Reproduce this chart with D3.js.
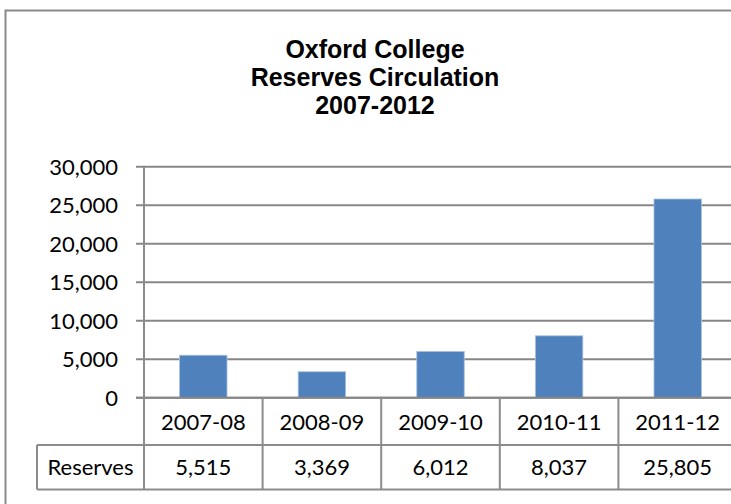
<!DOCTYPE html>
<html>
<head>
<meta charset="utf-8">
<script src="https://cdn.jsdelivr.net/npm/d3@7"></script>
<style>
  html, body { margin: 0; padding: 0; background: #fff; overflow: hidden; }
  svg { display: block; }
</style>
</head>
<body>
<svg id="chart" width="731" height="504"></svg>
<script>
const titleLines = ["Oxford College", "Reserves Circulation", "2007-2012"];
const categories = ["2007-08", "2008-09", "2009-10", "2010-11", "2011-12"];
const seriesName = "Reserves";
const reserves = [5515, 3369, 6012, 8037, 25805];
const yTicks = [0, 5000, 10000, 15000, 20000, 25000, 30000];

(function () {
const svg = d3.select("#chart");
const gridColor = "#878787";
const plotLeft = 144, plotRight = 737, plotTop = 166.7, plotBase = 397.7;
const row1Bottom = 445, row2Bottom = 489.5, labelLeft = 37;
const edge = 731;

// outer chart border (top and left edges fall inside the frame)
svg.append("path").attr("d", `M5.5,504V10.5H${edge}`)
  .attr("fill", "none").attr("stroke", "#8a8a8a").attr("stroke-width", 2);

// title
svg.append("text")
  .attr("x", 375).attr("y", 57.5)
  .attr("text-anchor", "middle")
  .attr("font-family", "Liberation Sans, Arial, sans-serif")
  .attr("font-weight", "bold").attr("font-size", 25).attr("fill", "#000")
  .selectAll("tspan").data(titleLines).join("tspan")
  .attr("x", 375).attr("dy", (d, i) => i === 0 ? 0 : 28.4)
  .text(d => d);

const x = d3.scaleBand().domain(categories).range([plotLeft, plotRight])
  .paddingInner(0.6).paddingOuter(0.3);
const y = d3.scaleLinear().domain([0, 30000]).range([plotBase, plotTop]);

// gridlines
svg.append("g").selectAll("line").data(yTicks).join("line")
  .attr("x1", plotLeft - 8).attr("x2", edge)
  .attr("y1", d => y(d)).attr("y2", d => y(d))
  .attr("stroke", gridColor).attr("stroke-width", 2);

// y labels
svg.append("g").selectAll("text").data(yTicks).join("text")
  .attr("x", 118).attr("y", d => y(d))
  .attr("dy", "0.36em")
  .attr("text-anchor", "end")
  .attr("font-family", "Lato, sans-serif").attr("font-size", 22).attr("fill", "#000")
  .text(d => d3.format(",")(d));

// bars
svg.append("g").selectAll("rect").data(reserves).join("rect")
  .attr("x", (d, i) => x(categories[i]))
  .attr("width", x.bandwidth())
  .attr("y", d => y(d))
  .attr("height", d => y(0) - y(d))
  .attr("fill", "#4f81bd")
  .attr("stroke", "#a9c0de").attr("stroke-width", 0.8);

// baseline over bars
svg.append("line").attr("x1", plotLeft - 8).attr("x2", edge)
  .attr("y1", plotBase).attr("y2", plotBase).attr("stroke", gridColor).attr("stroke-width", 2);

// data table
const step = x.step();
const tg = svg.append("g").attr("stroke", "#8c8c8c").attr("stroke-width", 2).attr("fill", "none");
categories.forEach((c, i) => {
  const cx = plotLeft + i * step;
  tg.append("line").attr("x1", cx).attr("x2", cx).attr("y1", i === 0 ? plotTop : plotBase).attr("y2", row2Bottom);
});
tg.append("line").attr("x1", labelLeft).attr("x2", edge).attr("y1", row1Bottom).attr("y2", row1Bottom);
tg.append("line").attr("x1", labelLeft).attr("x2", edge).attr("y1", row2Bottom).attr("y2", row2Bottom);
tg.append("line").attr("x1", labelLeft).attr("x2", labelLeft).attr("y1", row1Bottom).attr("y2", row2Bottom);

const textG = svg.append("g").attr("font-family", "Lato, sans-serif").attr("font-size", 22)
  .attr("fill", "#000").attr("text-anchor", "middle");
textG.selectAll("text.cat").data(categories).join("text").attr("class", "cat")
  .attr("x", d => x(d) + x.bandwidth() / 2).attr("y", (plotBase + row1Bottom) / 2 + 1)
  .attr("dy", "0.36em").text(d => d);
textG.selectAll("text.val").data(reserves).join("text").attr("class", "val")
  .attr("x", (d, i) => x(categories[i]) + x.bandwidth() / 2).attr("y", (row1Bottom + row2Bottom) / 2)
  .attr("dy", "0.36em").text(d => d3.format(",")(d));
textG.append("text").attr("x", (labelLeft + plotLeft) / 2).attr("y", (row1Bottom + row2Bottom) / 2)
  .attr("dy", "0.36em").text(seriesName);
})();
</script>
</body>
</html>
